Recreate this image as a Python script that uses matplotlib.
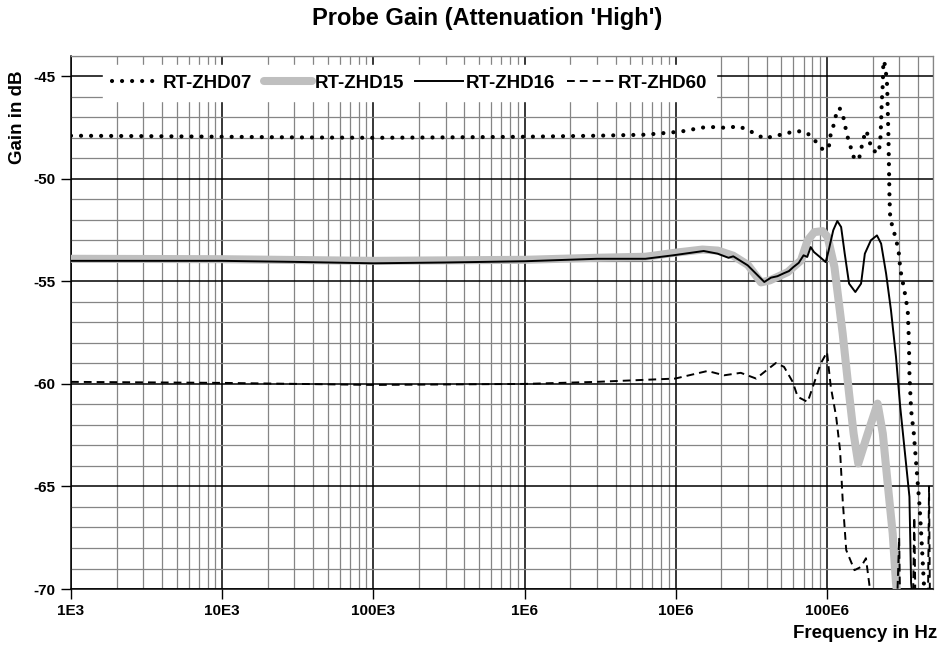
import numpy as np
import matplotlib
matplotlib.use("Agg")
import matplotlib.pyplot as plt
from matplotlib.ticker import FixedLocator, LogLocator, MultipleLocator, NullFormatter

plt.rcParams['font.family'] = ['Liberation Sans', 'DejaVu Sans']
plt.rcParams['font.weight'] = 'bold'
plt.rcParams['axes.unicode_minus'] = False

# RT-ZHD07 (dotted)
f07 = [1e3, 3e3, 1e4, 3e4, 1e5, 3e5, 1e6, 3e6, 6.3e6, 10e6, 12e6, 14e6, 16e6, 19e6, 22e6,
       25.6e6, 30e6, 34e6, 39e6, 45e6, 52e6, 60e6, 70e6, 78e6, 86e6, 95e6, 103e6, 105e6,
       110e6, 114e6, 121e6, 128e6, 132e6, 137e6, 143e6, 149e6, 162e6, 168e6, 173e6, 182e6,
       190e6, 198e6, 219e6, 225e6, 228e6, 230e6, 234e6, 236e6, 243e6, 250e6, 252e6, 255e6,
       259e6, 262e6, 275e6, 286e6, 297e6, 306e6, 325e6, 342e6, 348e6, 351e6, 360e6, 375e6,
       390e6, 410e6, 425e6, 437e6, 450e6]
g07 = [-47.9, -47.92, -47.95, -47.98, -48.0, -47.98, -47.95, -47.9, -47.85, -47.72, -47.65,
       -47.53, -47.48, -47.48, -47.53, -47.43, -47.61, -47.84, -48.05, -47.89, -47.84, -47.68,
       -47.69, -47.89, -48.26, -48.62, -48.42, -47.94, -47.45, -46.96, -46.54, -46.96, -47.45,
       -47.97, -48.42, -48.91, -49.1, -48.59, -48.1, -47.65, -48.1, -48.59, -48.75, -48.21,
       -47.24, -46.34, -45.37, -44.24, -44.48, -45.45, -46.51, -47.97, -50.9, -51.95, -52.48,
       -52.97, -53.46, -54.46, -55.44, -56.41, -57.87, -59.5, -61.28, -62.4, -64.0, -66.0,
       -68.0, -69.7, -71.0]

# RT-ZHD15 (thick grey)
f15 = [1e3, 1e4, 1e5, 1e6, 3e6, 6.3e6, 10e6, 15e6, 19e6, 24e6, 30e6, 36.6e6, 42e6, 55e6,
       60e6, 67.3e6, 74.5e6, 82.4e6, 93.5e6, 101e6, 112e6, 127e6, 140e6, 150e6, 161e6, 186e6,
       216e6, 234e6, 252e6, 272e6, 286e6, 300e6]
g15 = [-53.9, -53.92, -54.0, -53.95, -53.85, -53.8, -53.6, -53.45, -53.5, -53.75, -54.2,
       -55.05, -54.95, -54.55, -54.3, -53.98, -53.0, -52.6, -52.55, -52.84, -54.3, -57.55,
       -60.47, -62.42, -63.88, -62.42, -60.96, -62.42, -64.86, -67.29, -69.7, -71.0]

# RT-ZHD16 (solid black)
f16 = [1e3, 1e4, 3e4, 1e5, 3e5, 1e6, 3e6, 6.3e6, 9.6e6, 15.3e6, 18.9e6, 22.3e6, 24e6, 29.9e6,
       38.5e6, 42.6e6, 47e6, 52e6, 56e6, 60e6, 65e6, 70e6, 74e6, 78e6, 82e6, 91e6, 98e6,
       102.6e6, 110e6, 117e6, 124e6, 131e6, 140e6, 154e6, 168e6, 178e6, 195e6, 214e6, 228e6,
       246e6, 265e6, 286e6, 305e6, 351e6, 360e6, 375e6]
g16 = [-54.0, -54.0, -54.05, -54.12, -54.08, -54.02, -53.9, -53.9, -53.73, -53.52, -53.65,
       -53.85, -53.78, -54.22, -55.03, -54.82, -54.75, -54.6, -54.5, -54.3, -54.1, -53.73,
       -53.81, -53.33, -53.57, -53.85, -54.06, -53.49, -52.51, -52.06, -52.35, -53.65, -55.11,
       -55.52, -55.11, -53.65, -53.0, -52.76, -53.16, -54.62, -56.41, -58.68, -61.12, -65.5,
       -69.7, -71.0]

# RT-ZHD60 (dashed)
f60 = [1e3, 1e4, 1e5, 1e6, 3e6, 6.3e6, 9.9e6, 16.2e6, 20.9e6, 26.9e6, 34e6, 38.5e6, 45.9e6,
       52e6, 59.3e6, 64e6, 74.5e6, 82e6, 91e6, 100e6, 106e6, 115e6, 122e6, 127e6, 134e6,
       152e6, 168e6, 181e6, 190e6, 200e6, 290e6, 300e6, 305e6, 370e6, 378e6, 385e6, 465e6,
       473e6, 480e6]
g60 = [-59.9, -59.95, -60.05, -60.0, -59.9, -59.8, -59.74, -59.37, -59.58, -59.46, -59.74,
       -59.42, -58.98, -59.17, -59.9, -60.63, -60.88, -59.98, -59.0, -58.45, -60.15, -61.6,
       -63.23, -65.66, -68.1, -69.08, -68.92, -68.5, -69.7, -71.0, -71.0, -67.5, -71.0, -71.0,
       -66.5, -71.0, -71.0, -65.0, -71.0]

xtick_vals = [1e3, 1e4, 1e5, 1e6, 1e7, 1e8]
xtick_labels = ['1E3', '10E3', '100E3', '1E6', '10E6', '100E6']
ytick_vals = [-70, -65, -60, -55, -50, -45]

fig = plt.figure(figsize=(9.44, 6.51), dpi=100)
ax = fig.add_axes([0.0752, 0.0952, 0.9128, 0.8192])

ax.plot(f15, g15, color='#BFBFBF', lw=5.8, solid_capstyle='round', solid_joinstyle='round',
        label='RT-ZHD15', zorder=3)
ax.plot(f16, g16, color='black', lw=1.4, label='RT-ZHD16', zorder=4)
ax.plot(f60, g60, color='black', lw=1.4, linestyle=(0, (4, 2.6)), label='RT-ZHD60', zorder=4)
ax.plot(f07, g07, color='black', lw=3, linestyle=(0, (0.01, 2.4)), dash_capstyle='round',
        label='RT-ZHD07', zorder=5)

ax.set_xscale('log')
ax.set_xlim(1e3, 5e8)
ax.set_ylim(-70, -44)

ax.xaxis.set_major_locator(FixedLocator(xtick_vals))
ax.set_xticks(xtick_vals)
ax.set_xticklabels(xtick_labels)
ax.xaxis.set_minor_locator(LogLocator(base=10, subs=np.arange(2, 10)))
ax.xaxis.set_minor_formatter(NullFormatter())
ax.set_yticks(ytick_vals)
ax.set_yticklabels([str(v) for v in ytick_vals])
ax.yaxis.set_minor_locator(MultipleLocator(1))

ax.tick_params(which='major', direction='out', length=7, width=1, labelsize=11, pad=4)
ax.tick_params(which='minor', length=0)

ax.grid(which='minor', color='#858585', lw=0.9, zorder=0)
ax.grid(which='major', color='black', lw=1.1, zorder=1)
ax.set_axisbelow(True)

for s in ['top', 'right']:
    ax.spines[s].set_color('#858585')
    ax.spines[s].set_linewidth(0.9)
for s in ['left', 'bottom']:
    ax.spines[s].set_linewidth(1.1)

handles, labels = ax.get_legend_handles_labels()
order = [3, 0, 1, 2]
leg = ax.legend([handles[i] for i in order], [labels[i] for i in order], ncol=4,
                loc='upper left', bbox_to_anchor=(0.0371, 0.9826), borderaxespad=0,
                frameon=True, fancybox=False, framealpha=1, edgecolor='white',
                fontsize=13.5, handlelength=2.56, handletextpad=0.15, columnspacing=0.6,
                borderpad=0.5)
leg.set_zorder(10)

fig.text(487 / 944, 1 - 18 / 651, "Probe Gain (Attenuation 'High')", ha='center',
         va='center', fontsize=17, fontweight='bold')
fig.text(18 / 944, 1 - 117 / 651, 'Gain in dB', rotation=90, ha='center', va='center',
         fontsize=13.5, fontweight='bold')
fig.text(937 / 944, 1 - 634 / 651, 'Frequency in Hz', ha='right', va='center',
         fontsize=13.5, fontweight='bold')

fig.savefig('out.png', dpi=100)
